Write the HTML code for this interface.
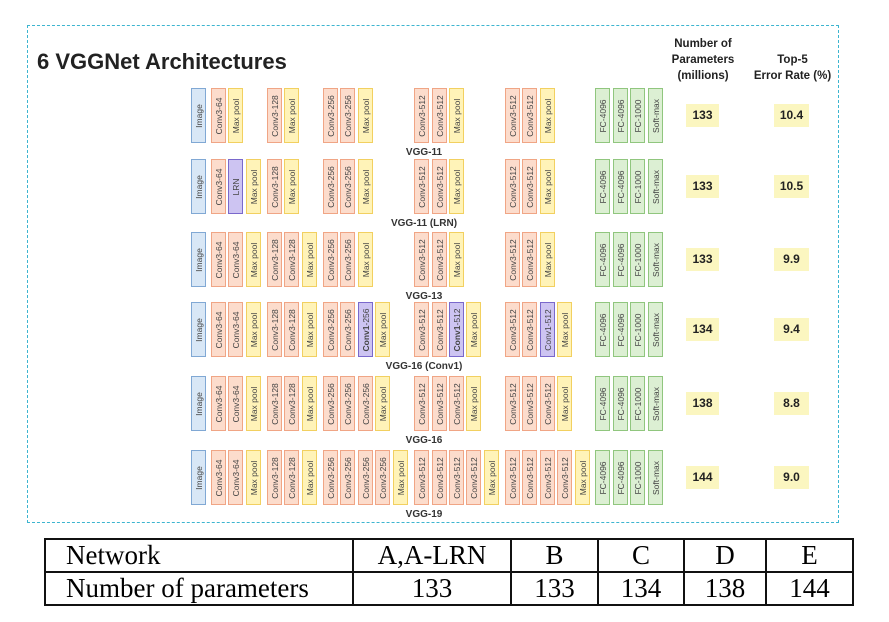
<!DOCTYPE html>
<html><head><meta charset="utf-8"><style>
body{margin:0;width:889px;height:622px;background:#fff;position:relative;overflow:hidden;font-family:"Liberation Sans",sans-serif}
.b{position:absolute;width:13px;height:53px;border:1px solid;box-sizing:content-box}
.b span{position:absolute;left:50%;top:50%;transform:translate(-50%,-50%) rotate(-90deg);font-size:8.5px;white-space:nowrap;color:#444}
.conv{background:#fcdccc;border-color:#f0a585}
.mp{background:#fff3b8;border-color:#f2d060}
.img{background:#d8e7f6;border-color:#80a8d4}
.fc{background:#dcefd3;border-color:#90c67e}
.pu{background:#cdc4f2;border-color:#7a68cc}
.lbl{position:absolute;font-size:10px;font-weight:bold;color:#333;transform:translateX(-50%);white-space:nowrap}
.val{position:absolute;background:#fbf6c0;font-weight:bold;font-size:12px;text-align:center;line-height:23px;height:23px;color:#222}
.hd{position:absolute;font-weight:bold;font-size:11.5px;text-align:center;line-height:16px;color:#222}
table{position:absolute;left:44px;top:538px;width:808px;table-layout:fixed;border-collapse:collapse;font-family:"Liberation Serif",serif;font-size:27px}
td{border:2px solid #111;height:31px;padding:0;line-height:31px;text-align:center;overflow:hidden;white-space:nowrap}
td.l{text-align:left;padding-left:20px}
</style></head><body>
<div style="position:absolute;left:27px;top:25px;width:810px;height:496px;border:1.5px dashed #3db5d0"></div>
<div style="position:absolute;left:37px;top:49px;font-size:22px;font-weight:bold;color:#222">6 VGGNet Architectures</div>
<div class="hd" style="left:658px;top:36px;width:90px">Number of<br>Parameters<br>(millions)</div>
<div class="hd" style="left:743px;top:52px;width:99px">Top-5<br>Error Rate (%)</div>
<div id="c"></div>
<table>
<colgroup><col style="width:308px"><col style="width:158px"><col style="width:87px"><col style="width:86px"><col style="width:82px"><col style="width:87px"></colgroup>
<tr><td class="l">Network</td><td>A,A-LRN</td><td>B</td><td>C</td><td>D</td><td>E</td></tr>
<tr><td class="l">Number of parameters</td><td>133</td><td>133</td><td>134</td><td>138</td><td>144</td></tr>
</table>
<script>
var S=[211,228,246,267,284,302,323,340,358,375,393,414,432,449,466,484,505,522,540,557,575];
var C='conv',M='mp',P='pu';
var rows=[
 {t:88,n:'VGG-11',p:133,e:'10.4',b:[[0,C,'Conv3-64'],[1,M,'Max pool'],[3,C,'Conv3-128'],[4,M,'Max pool'],[6,C,'Conv3-256'],[7,C,'Conv3-256'],[8,M,'Max pool'],[11,C,'Conv3-512'],[12,C,'Conv3-512'],[13,M,'Max pool'],[16,C,'Conv3-512'],[17,C,'Conv3-512'],[18,M,'Max pool']]},
 {t:159,n:'VGG-11 (LRN)',p:133,e:'10.5',b:[[0,C,'Conv3-64'],[1,P,'LRN'],[2,M,'Max pool'],[3,C,'Conv3-128'],[4,M,'Max pool'],[6,C,'Conv3-256'],[7,C,'Conv3-256'],[8,M,'Max pool'],[11,C,'Conv3-512'],[12,C,'Conv3-512'],[13,M,'Max pool'],[16,C,'Conv3-512'],[17,C,'Conv3-512'],[18,M,'Max pool']]},
 {t:232,n:'VGG-13',p:133,e:'9.9',b:[[0,C,'Conv3-64'],[1,C,'Conv3-64'],[2,M,'Max pool'],[3,C,'Conv3-128'],[4,C,'Conv3-128'],[5,M,'Max pool'],[6,C,'Conv3-256'],[7,C,'Conv3-256'],[8,M,'Max pool'],[11,C,'Conv3-512'],[12,C,'Conv3-512'],[13,M,'Max pool'],[16,C,'Conv3-512'],[17,C,'Conv3-512'],[18,M,'Max pool']]},
 {t:302,n:'VGG-16 (Conv1)',p:134,e:'9.4',b:[[0,C,'Conv3-64'],[1,C,'Conv3-64'],[2,M,'Max pool'],[3,C,'Conv3-128'],[4,C,'Conv3-128'],[5,M,'Max pool'],[6,C,'Conv3-256'],[7,C,'Conv3-256'],[8,P,'<b>Conv1</b>-256'],[9,M,'Max pool'],[11,C,'Conv3-512'],[12,C,'Conv3-512'],[13,P,'<b>Conv1</b>-512'],[14,M,'Max pool'],[16,C,'Conv3-512'],[17,C,'Conv3-512'],[18,P,'Conv1-512'],[19,M,'Max pool']]},
 {t:376,n:'VGG-16',p:138,e:'8.8',b:[[0,C,'Conv3-64'],[1,C,'Conv3-64'],[2,M,'Max pool'],[3,C,'Conv3-128'],[4,C,'Conv3-128'],[5,M,'Max pool'],[6,C,'Conv3-256'],[7,C,'Conv3-256'],[8,C,'Conv3-256'],[9,M,'Max pool'],[11,C,'Conv3-512'],[12,C,'Conv3-512'],[13,C,'Conv3-512'],[14,M,'Max pool'],[16,C,'Conv3-512'],[17,C,'Conv3-512'],[18,C,'Conv3-512'],[19,M,'Max pool']]},
 {t:450,n:'VGG-19',p:144,e:'9.0',b:[[0,C,'Conv3-64'],[1,C,'Conv3-64'],[2,M,'Max pool'],[3,C,'Conv3-128'],[4,C,'Conv3-128'],[5,M,'Max pool'],[6,C,'Conv3-256'],[7,C,'Conv3-256'],[8,C,'Conv3-256'],[9,C,'Conv3-256'],[10,M,'Max pool'],[11,C,'Conv3-512'],[12,C,'Conv3-512'],[13,C,'Conv3-512'],[14,C,'Conv3-512'],[15,M,'Max pool'],[16,C,'Conv3-512'],[17,C,'Conv3-512'],[18,C,'Conv3-512'],[19,C,'Conv3-512'],[20,M,'Max pool']]}
];
var h='';
function blk(x,y,c,t){h+='<div class="b '+c+'" style="left:'+x+'px;top:'+y+'px"><span>'+t+'</span></div>';}
rows.forEach(function(r){
 blk(191,r.t,'img','Image');
 r.b.forEach(function(b){blk(S[b[0]],r.t,b[1],b[2]);});
 [[595,'FC-4096'],[613,'FC-4096'],[630,'FC-1000'],[648,'Soft-max']].forEach(function(f){blk(f[0],r.t,'fc',f[1]);});
 h+='<div class="lbl" style="left:424px;top:'+(r.t+59)+'px">'+r.n+'</div>';
 h+='<div class="val" style="left:686px;top:'+(r.t+16)+'px;width:33px">'+r.p+'</div>';
 h+='<div class="val" style="left:774px;top:'+(r.t+16)+'px;width:35px">'+r.e+'</div>';
});
document.getElementById('c').innerHTML=h;
</script>
</body></html>
